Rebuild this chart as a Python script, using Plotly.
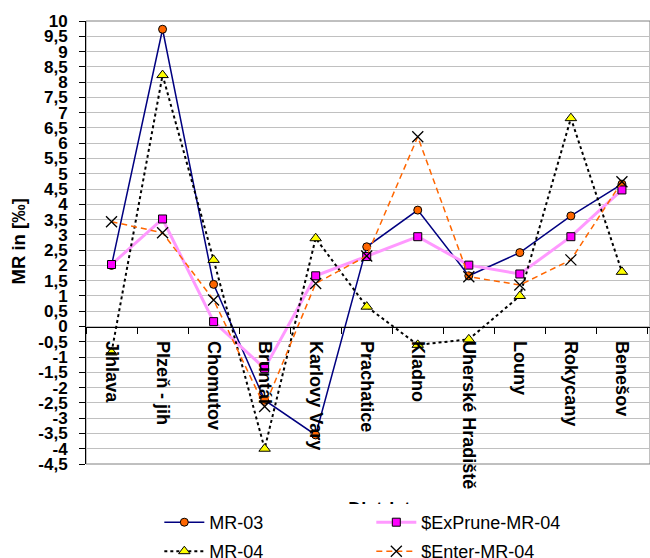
import plotly.graph_objects as go

districts = ["Jihlava", "Plzeň - jih", "Chomutov", "Bruntál", "Karlovy Vary", "Prachatice",
             "Kladno", "Uherské Hradiště", "Louny", "Rokycany", "Benešov"]
mr03 = [2.0, 9.73, 1.38, -2.41, -3.55, 2.61, 3.81, 1.66, 2.42, 3.62, 4.66]
exprune = [2.03, 3.52, 0.16, -1.37, 1.66, 2.29, 2.94, 2.01, 1.72, 2.94, 4.47]
mr04 = [-0.85, 8.23, 2.18, -4.0, 2.89, 0.65, -0.6, -0.42, 1.0, 6.82, 1.79]
enter = [3.43, 3.07, 0.87, -2.62, 1.41, 2.31, 6.21, 1.63, 1.36, 2.18, 4.74]

ytick_vals = [-4.5, -4, -3.5, -3, -2.5, -2, -1.5, -1, -0.5, 0, 0.5, 1, 1.5, 2, 2.5, 3,
              3.5, 4, 4.5, 5, 5.5, 6, 6.5, 7, 7.5, 8, 8.5, 9, 9.5, 10]
ytick_text = ["-4,5", "-4", "-3,5", "-3", "-2,5", "-2", "-1,5", "-1", "-0,5", "0", "0,5", "1",
              "1,5", "2", "2,5", "3", "3,5", "4", "4,5", "5", "5,5", "6", "6,5", "7", "7,5",
              "8", "8,5", "9", "9,5", "10"]

FONT = "Arial, Liberation Sans, sans-serif"

fig = go.Figure()
fig.add_trace(go.Scatter(
    x=districts, y=mr03, name="MR-03", mode="lines+markers", legend="legend",
    line=dict(color="#000080", width=1.5),
    marker=dict(symbol="circle", size=8, color="#FF6600", line=dict(color="black", width=1))))
fig.add_trace(go.Scatter(
    x=districts, y=exprune, name="$ExPrune-MR-04", mode="lines+markers", legend="legend",
    line=dict(color="#FF99FF", width=3),
    marker=dict(symbol="square", size=8, color="#FF00FF", line=dict(color="black", width=1))))
fig.add_trace(go.Scatter(
    x=districts, y=mr04, name="MR-04", mode="lines+markers", legend="legend2",
    line=dict(color="black", width=2, dash="dot"),
    marker=dict(symbol="triangle-up", size=10, color="#FFFF00", line=dict(color="black", width=1))))
fig.add_trace(go.Scatter(
    x=districts, y=enter, name="$Enter-MR-04", mode="lines+markers", legend="legend2",
    line=dict(color="#FF6600", width=1.5, dash="6px,4px"),
    marker=dict(symbol="x-thin", size=11, color="black", line=dict(color="black", width=1.3))))

legend_common = dict(orientation="h", xanchor="left", yanchor="top",
                     font=dict(size=18, family=FONT, color="black"), entrywidth=157,
                     bgcolor="white", itemwidth=40)

fig.update_layout(
    width=650, height=558,
    margin=dict(l=86, r=0, t=21, b=94, autoexpand=False),
    paper_bgcolor="white", plot_bgcolor="white",
    font=dict(family=FONT, color="black"),
    showlegend=True,
    legend=dict(x=0.13, y=(464 - 504) / 443, **legend_common),
    legend2=dict(x=0.13, y=(464 - 533) / 443, **legend_common),
    xaxis=dict(type="category", range=[-0.5, 10.55], anchor="free", position=4.5 / 14.5,
               showline=True, linecolor="black", linewidth=1, showgrid=False,
               ticks="outside", ticklen=6, tickcolor="black", tickson="boundaries",
               tickangle=90, tickfont=dict(size=18, family=FONT, weight="bold"),
               ticklabelstandoff=10, zeroline=False),
    yaxis=dict(range=[-4.5, 10], tickvals=ytick_vals, ticktext=ytick_text,
               showline=True, linecolor="black", linewidth=1,
               showgrid=True, gridcolor="#C0C0C0", gridwidth=1, zeroline=False,
               ticks="outside", ticklen=6, tickcolor="black",
               tickfont=dict(size=17, family=FONT, weight="bold"), ticklabelstandoff=8),
    shapes=[
        dict(type="rect", xref="paper", yref="paper", x0=0, x1=1, y0=0, y1=1,
             line=dict(color="#808080", width=1), layer="below"),
        dict(type="rect", xref="paper", yref="paper", x0=0.3, x1=0.74,
             y0=(464 - 498) / 443, y1=(464 - 516) / 443,
             line=dict(width=0), fillcolor="rgba(0,0,0,0)",
             label=dict(text="<b>District</b>", font=dict(size=18, family=FONT, color="black"),
                        textposition="middle center")),
    ],
    annotations=[
        dict(text="<b>MR in [‰]</b>", textangle=-90, xref="paper", yref="paper",
             x=(18 - 86) / 564, y=(464 - 241.5) / 443, showarrow=False,
             font=dict(size=18.5, family=FONT, color="black"), xanchor="center", yanchor="middle"),
    ],
)

fig.write_html("out.html")
